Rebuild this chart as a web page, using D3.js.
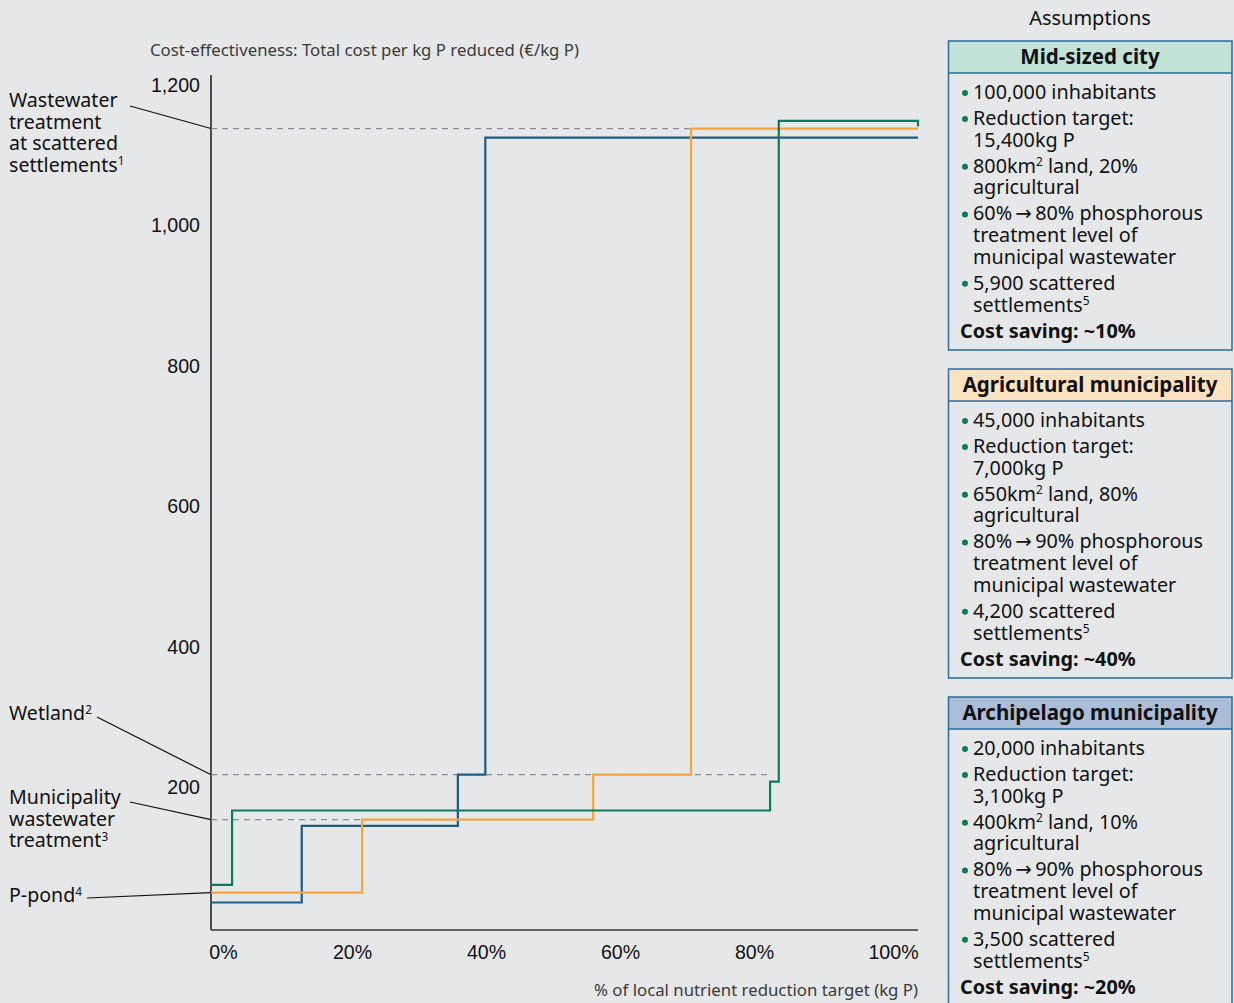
<!DOCTYPE html>
<html>
<head>
<meta charset="utf-8">
<script src="https://cdn.jsdelivr.net/npm/d3@7"></script>
<style>
  html, body { margin: 0; padding: 0; background: #e6e7e9; }
  svg { display: block; font-family: "Noto Sans", "DejaVu Sans", sans-serif; }
</style>
</head>
<body>
<svg id="chart" width="1234" height="1003"></svg>
<script>
// ---- data ----
const xTicks = [0, 20, 40, 60, 80, 100];
const yTicks = [200, 400, 600, 800, 1000, 1200];

// Step curves: x (% of target) where each cost level begins, and the cost level (€/kg P)
const cityStepStarts = [null, 2.1, 82.4, 83.7];
const cityCosts      = [61, 167, 208, 1149];
const cityEndCost    = 1141;
const agriStepStarts = [null, 21.5, 56.0, 70.6];
const agriCosts      = [50, 154, 218, 1138];
const archStepStarts = [null, 12.5, 35.8, 39.9];
const archCosts      = [36, 145, 218, 1125];

const seriesColors = ["#0d7a5c", "#f4a53e", "#1c5c8c"];

// Measure annotations: name lines (odd pieces = footnote marks), cost level, end of dashed guide
const measureNames = [
  [["Wastewater"], ["treatment"], ["at scattered"], ["settlements", "1"]],
  [["Wetland", "2"]],
  [["Municipality"], ["wastewater"], ["treatment", "3"]],
  [["P-pond", "4"]]
];
const measureCosts = [1138, 218, 154, 50];
const measureGuideEnds = [70.6, 82.4, 21.5, null];

// Assumption panels
const panelTitles = ["Mid-sized city", "Agricultural municipality", "Archipelago municipality"];
const panelFills = ["#c3e2d8", "#fde2c0", "#abbdd7"];
const panelBullets = [
  [[["100,000 inhabitants"]], [["Reduction target:"], ["15,400kg P"]], [["800km", "2", " land, 20%"], ["agricultural"]],
   [["60%\u2009\u2192\u200980% phosphorous"], ["treatment level of"], ["municipal wastewater"]], [["5,900 scattered"], ["settlements", "5"]]],
  [[["45,000 inhabitants"]], [["Reduction target:"], ["7,000kg P"]], [["650km", "2", " land, 80%"], ["agricultural"]],
   [["80%\u2009\u2192\u200990% phosphorous"], ["treatment level of"], ["municipal wastewater"]], [["4,200 scattered"], ["settlements", "5"]]],
  [[["20,000 inhabitants"]], [["Reduction target:"], ["3,100kg P"]], [["400km", "2", " land, 10%"], ["agricultural"]],
   [["80%\u2009\u2192\u200990% phosphorous"], ["treatment level of"], ["municipal wastewater"]], [["3,500 scattered"], ["settlements", "5"]]]
];
const panelSavings = ["Cost saving: ~10%", "Cost saving: ~40%", "Cost saving: ~20%"];

// ---- layout ----
const svg = d3.select("#chart");
const plotLeft = 211, plotRight = 918, plotTop = 75, plotBottom = 930;

const x = d3.scaleLinear().domain([0, 100]).range([218, 888]);
const y = d3.scaleLinear().domain([0, 1200]).range([927.8, 85]);
const xLo = x.invert(plotLeft), xHi = x.invert(plotRight);

// writes text pieces; odd-indexed pieces are small raised footnote marks
function richText(sel, parts, size) {
  parts.forEach((p, k) => {
    const isSup = k % 2 === 1;
    const ts = sel.append("tspan").text(p);
    if (isSup) ts.attr("font-size", size * 0.6).attr("dy", -size * 0.33);
    else if (k > 0) ts.attr("dy", size * 0.33);
  });
}

// axis titles
svg.append("text").attr("x", 150).attr("y", 56)
  .attr("font-size", 16.8).attr("fill", "#3a3a3a")
  .text("Cost-effectiveness: Total cost per kg P reduced (€/kg P)");
svg.append("text").attr("x", plotRight).attr("y", 996).attr("text-anchor", "end")
  .attr("font-size", 16.8).attr("fill", "#3a3a3a")
  .text("% of local nutrient reduction target (kg P)");

// y axis
const yAxis = svg.append("g").attr("transform", `translate(${plotLeft},0)`)
  .call(d3.axisLeft(y).tickValues(yTicks).tickSize(0).tickPadding(11).tickFormat(d3.format(",")));
yAxis.select(".domain").remove();
yAxis.selectAll("text").attr("font-size", 19.6).attr("fill", "#111").attr("font-family", null);
svg.append("line").attr("x1", plotLeft).attr("x2", plotLeft).attr("y1", plotTop).attr("y2", plotBottom)
  .attr("stroke", "#1a1a1a").attr("stroke-width", 1.5);

// x axis
const xAxis = svg.append("g").attr("transform", `translate(0,${plotBottom})`)
  .call(d3.axisBottom(x).tickValues(xTicks).tickSize(0).tickPadding(15).tickFormat(d => d + "%"));
xAxis.select(".domain").remove();
xAxis.selectAll("text").attr("font-size", 19.6).attr("fill", "#111").attr("font-family", null)
  .attr("dx", d => (d === 0 || d === 100) ? 5 : 0);
svg.append("line").attr("x1", plotLeft).attr("x2", plotRight).attr("y1", plotBottom).attr("y2", plotBottom)
  .attr("stroke", "#333").attr("stroke-width", 1.5);

// dashed guides for each measure's cost level
measureCosts.forEach((c, i) => {
  if (measureGuideEnds[i] == null) return;
  svg.append("line")
    .attr("x1", plotLeft).attr("x2", x(measureGuideEnds[i]))
    .attr("y1", y(c)).attr("y2", y(c))
    .attr("stroke", "#8a8d93").attr("stroke-width", 1.3).attr("stroke-dasharray", "6,5");
});

// step curves
function stepPoints(starts, costs, endCost) {
  const pts = starts.map((s, i) => [s == null ? xLo : s, costs[i]]);
  pts.push([xHi, costs[costs.length - 1]]);
  if (endCost != null) pts.push([xHi, endCost]);
  return pts;
}
const line = d3.line().x(d => x(d[0])).y(d => y(d[1])).curve(d3.curveStepAfter);
const curves = [
  stepPoints(archStepStarts, archCosts),
  stepPoints(agriStepStarts, agriCosts),
  stepPoints(cityStepStarts, cityCosts, cityEndCost)
];
const curveColors = [seriesColors[2], seriesColors[1], seriesColors[0]];
curves.forEach((pts, i) => {
  svg.append("path").attr("d", line(pts)).attr("fill", "none")
    .attr("stroke", curveColors[i]).attr("stroke-width", 2.2).attr("stroke-linejoin", "miter");
});

// measure labels with leaders
const labelTops = [100, 713, 797, 895];
const leaderStarts = [[130, 106], [97, 717], [130, 802], [87, 898]];
measureNames.forEach((lines, i) => {
  lines.forEach((ln, j) => {
    const t = svg.append("text").attr("x", 9).attr("y", labelTops[i] + 7 + j * 21.5)
      .attr("font-size", 19.6).attr("fill", "#111");
    richText(t, ln, 19.6);
  });
  svg.append("line")
    .attr("x1", leaderStarts[i][0]).attr("y1", leaderStarts[i][1])
    .attr("x2", plotLeft).attr("y2", y(measureCosts[i]))
    .attr("stroke", "#111").attr("stroke-width", 1.2);
});

// assumption panels
svg.append("text").attr("x", 1090).attr("y", 25).attr("text-anchor", "middle")
  .attr("font-size", 20).attr("fill", "#111").text("Assumptions");

const panelX = 948.5, panelW = 283.5, panelH = 309, headH = 32;
panelTitles.forEach((title, p) => {
  const top = 41 + p * 328;
  const g = svg.append("g");
  g.append("rect").attr("x", panelX).attr("y", top).attr("width", panelW).attr("height", headH)
    .attr("fill", panelFills[p]);
  g.append("rect").attr("x", panelX).attr("y", top).attr("width", panelW).attr("height", panelH)
    .attr("fill", "none").attr("stroke", "#2d6b9c").attr("stroke-width", 1.5);
  g.append("line").attr("x1", panelX).attr("x2", panelX + panelW).attr("y1", top + headH).attr("y2", top + headH)
    .attr("stroke", "#2d6b9c").attr("stroke-width", 1.5);
  g.append("text").attr("x", 1090).attr("y", top + 23).attr("text-anchor", "middle")
    .attr("font-size", 20.5).attr("font-weight", "bold").attr("fill", "#111").text(title);

  let cy = top + headH + 19;
  panelBullets[p].forEach((bullet, b) => {
    if (b > 0) cy += 26;
    g.append("circle").attr("cx", 965).attr("cy", cy + 1).attr("r", 3).attr("fill", seriesColors[0]);
    bullet.forEach((ln, j) => {
      if (j > 0) cy += 21.7;
      const t = g.append("text").attr("x", 973).attr("y", cy + 7).attr("font-size", 19.8).attr("fill", "#111");
      richText(t, ln, 19.8);
    });
  });
  cy += 26;
  g.append("text").attr("x", 960).attr("y", cy + 7).attr("font-size", 19.8).attr("font-weight", "bold")
    .attr("fill", "#111").text(panelSavings[p]);
});
</script>
</body>
</html>
